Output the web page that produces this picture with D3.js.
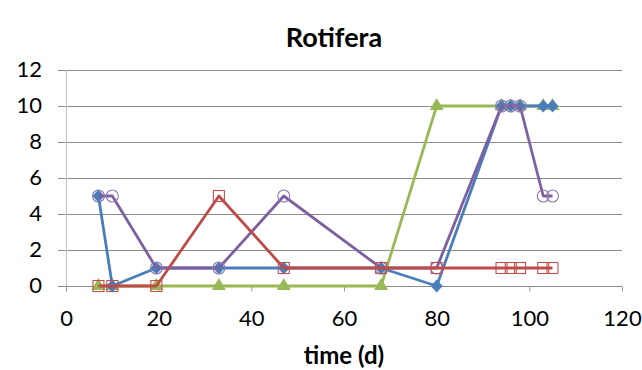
<!DOCTYPE html>
<html><head><meta charset="utf-8">
<script src="https://cdn.jsdelivr.net/npm/d3@7"></script>
<style>
html,body{margin:0;padding:0;background:#fff;}
svg{display:block;}
text{font-family:Lato,"Open Sans",sans-serif;fill:#000;}
</style></head>
<body>
<svg id="chart" width="642" height="370"></svg>
<script>
const days   = [7, 10, 19.5, 33, 47, 68, 80, 94, 96, 98, 103, 105];
const blue   = [5, 0, 1, 1, 1, 1, 0, 10, 10, 10, 10, 10];
const red    = [0, 0, 0, 5, 1, 1, 1, 1, 1, 1, 1, 1];
const green  = [0, 0, 0, 0, 0, 0, 10, 10, 10, 10, 10, 10];
const purple = [5, 5, 1, 1, 5, 1, 1, 10, 10, 10, 5, 5];
const xTicks = [0, 20, 40, 60, 80, 100, 120];
const yTicks = [0, 2, 4, 6, 8, 10, 12];
const title = "Rotifera";
const xTitle = "time (d)";

const svg = d3.select("#chart");
const x = d3.scaleLinear().domain([0, 120]).range([66, 622]);
const y = d3.scaleLinear().domain([0, 12]).range([286, 70]);

// gridlines
svg.append("g").selectAll("line").data(yTicks.filter(d => d > 0)).join("line")
  .attr("x1", 58).attr("x2", x(120))
  .attr("y1", d => y(d) + 0.5).attr("y2", d => y(d) + 0.5)
  .attr("stroke", "#8c8c8c").attr("stroke-width", 1);

// y axis line
svg.append("line").attr("x1", x(0) + 0.5).attr("x2", x(0) + 0.5)
  .attr("y1", y(12)).attr("y2", y(0) + 5)
  .attr("stroke", "#c4c4c4").attr("stroke-width", 1.2);

// x axis
const xAxis = d3.axisBottom(x).tickValues(xTicks).tickSize(5).tickSizeOuter(0).tickPadding(19)
  .tickFormat(d3.format("d"));
const gx = svg.append("g").attr("transform", `translate(0,${y(0) + 0.5})`).call(xAxis);
gx.select(".domain").attr("stroke", "#8c8c8c").attr("d", `M58,0H${x(120)}`);
gx.selectAll(".tick line").attr("stroke", "#9a9a9a");
gx.selectAll(".tick text").attr("font-size", 22).attr("font-family", "Lato").attr("fill", "#111");

// y axis labels
const yAxis = d3.axisLeft(y).tickValues(yTicks).tickSize(0).tickPadding(24).tickFormat(d3.format("d"));
const gy = svg.append("g").attr("transform", `translate(${x(0)},0)`).call(yAxis);
gy.select(".domain").remove();
gy.selectAll(".tick text").attr("font-size", 22).attr("font-family", "Lato").attr("fill", "#111")
  .attr("dy", "0.3em");

// titles
svg.append("text").attr("x", 334).attr("y", 47).attr("text-anchor", "middle")
  .attr("font-size", 27).attr("font-weight", "bold").text(title);
svg.append("text").attr("x", 344).attr("y", 364).attr("text-anchor", "middle")
  .attr("font-size", 24).attr("font-weight", "bold").text(xTitle);

const line = d3.line().x(d => x(d[0])).y(d => y(d[1]));
function series(vals, color) {
  const pts = days.map((d, i) => [d, vals[i]]);
  svg.append("path").datum(pts).attr("d", line).attr("fill", "none")
    .attr("stroke", color).attr("stroke-width", 2.8).attr("stroke-linejoin", "round");
  return pts;
}

// green (triangles)
const gp = series(green, "#98b954");
svg.append("g").selectAll("path").data(gp).join("path")
  .attr("transform", d => `translate(${x(d[0])},${y(d[1])})`)
  .attr("d", d3.symbol(d3.symbolTriangle, 85)).attr("fill", "#98b954");

// blue (diamonds)
const bp = series(blue, "#4a7ebb");
svg.append("g").selectAll("path").data(bp).join("path")
  .attr("transform", d => `translate(${x(d[0])},${y(d[1])})`)
  .attr("d", "M0,-6.5L6,0L0,6.5L-6,0Z").attr("fill", "#4a7ebb");

// purple (hollow circles)
const pp = series(purple, "#7d60a0");
svg.append("g").selectAll("circle").data(pp).join("circle")
  .attr("cx", d => x(d[0])).attr("cy", d => y(d[1])).attr("r", 6)
  .attr("fill", "none").attr("stroke", "#8f7bb0").attr("stroke-width", 1.1);

// red (hollow squares)
const rp = series(red, "#be4b48");
svg.append("g").selectAll("rect").data(rp).join("rect")
  .attr("x", d => x(d[0]) - 5.5).attr("y", d => y(d[1]) - 5.5)
  .attr("width", 11).attr("height", 11)
  .attr("fill", "none").attr("stroke", "#c0504d").attr("stroke-width", 1.1);
</script>
</body></html>
